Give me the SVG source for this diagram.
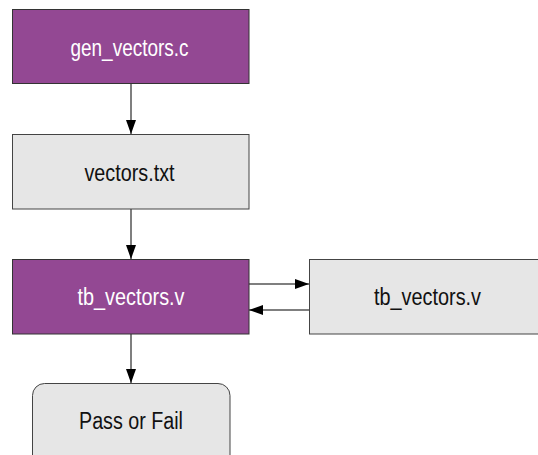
<svg xmlns="http://www.w3.org/2000/svg" width="538" height="455" viewBox="0 0 538 455">
<style>
.p{fill:#934893;stroke:#333;stroke-width:1}
.g{fill:#e6e6e6;stroke:#444;stroke-width:1}
.t{font-family:"Liberation Sans",Arial,sans-serif;font-size:23px;text-anchor:middle}
.w{fill:#fff}
.k{fill:#111}
.c{stroke:#555;stroke-width:1.5;fill:none;marker-end:url(#ah)}
</style>
<defs>
<marker id="ah" markerWidth="14" markerHeight="10" refX="14" refY="5" orient="auto" markerUnits="userSpaceOnUse" viewBox="0 0 14 10">
<path d="M0,0 L14,5 L0,10 z" fill="#000"/>
</marker>
</defs>
<rect width="538" height="455" fill="#fff"/>
<g id="connectors">
<path class="c" d="M131,83 V134"/>
<path class="c" d="M131,209 V259"/>
<path class="c" d="M131,334 V383"/>
<path class="c" d="M249,284 H309"/>
<path class="c" d="M309,310 H249"/>
</g>
<g id="gen_vectors">
<rect class="p" x="12.5" y="9.5" width="236.5" height="74"/>
<text class="t w" x="129.5" y="55.5" textLength="118" lengthAdjust="spacingAndGlyphs">gen_vectors.c</text>
</g>
<g id="vectors_txt">
<rect class="g" x="12.5" y="134.5" width="236.5" height="74.5"/>
<text class="t k" x="129.5" y="180.5" textLength="90" lengthAdjust="spacingAndGlyphs">vectors.txt</text>
</g>
<g id="tb_vectors_left">
<rect class="p" x="12.5" y="259.5" width="236.5" height="74.5"/>
<text class="t w" x="131" y="305" textLength="107" lengthAdjust="spacingAndGlyphs">tb_vectors.v</text>
</g>
<g id="tb_vectors_right">
<rect class="g" x="309.5" y="259.5" width="236.5" height="74.5"/>
<text class="t k" x="427.5" y="305" textLength="107" lengthAdjust="spacingAndGlyphs">tb_vectors.v</text>
</g>
<g id="pass_fail">
<rect class="g" x="32.5" y="383.5" width="197.5" height="90" rx="12" ry="12"/>
<text class="t k" x="131" y="429" textLength="104" lengthAdjust="spacingAndGlyphs">Pass or Fail</text>
</g>
</svg>
